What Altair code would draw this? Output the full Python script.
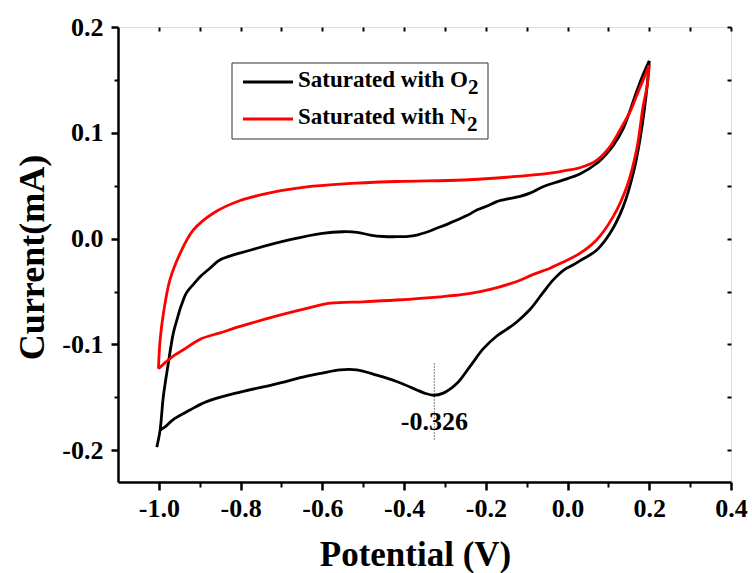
import altair as alt
import pandas as pd

# ---------------- data ----------------
series_names = ["Saturated with O\u2082", "Saturated with N\u2082"]
series_colors = ["#000000", "#ff0000"]
legend_main = ["Saturated with O", "Saturated with N"]
legend_sub = ["2", "2"]

# O2-saturated CV: forward scan (-1.0 -> 0.2)
o2_fwd_v = [
    -1.005, -0.997, -0.989, -0.977, -0.965, -0.956, -0.945, -0.932, -0.915, -0.899,
    -0.875, -0.850, -0.777, -0.679, -0.600, -0.550, -0.515, -0.483, -0.450, -0.418,
    -0.390, -0.369, -0.345, -0.320, -0.295, -0.271, -0.245, -0.222, -0.195, -0.173,
    -0.140, -0.116, -0.092, -0.060, -0.030, -0.010, 0.030, 0.071, 0.095, 0.112,
    0.135, 0.153, 0.170, 0.185, 0.200,
]
o2_fwd_i = [
    -0.197, -0.181, -0.149, -0.118, -0.090, -0.077, -0.063, -0.051, -0.043, -0.036,
    -0.028, -0.020, -0.011, -0.001, 0.005, 0.0065, 0.006, 0.0034, 0.002, 0.0018,
    0.0022, 0.0034, 0.006, 0.0098, 0.0135, 0.0176, 0.022, 0.027, 0.031, 0.035,
    0.038, 0.040, 0.043, 0.049, 0.053, 0.0555, 0.061, 0.071, 0.080, 0.088,
    0.103, 0.121, 0.140, 0.155, 0.168,
]
# O2-saturated CV: reverse scan (0.2 -> -1.0)
o2_rev_v = [
    0.200, 0.195, 0.189, 0.177, 0.161, 0.136, 0.104, 0.071, 0.030, 0.013,
    -0.010, -0.035, -0.060, -0.092, -0.125, -0.150, -0.173, -0.206, -0.239, -0.271,
    -0.304, -0.328, -0.350, -0.369, -0.418, -0.467, -0.516, -0.557, -0.600, -0.638,
    -0.720, -0.801, -0.883, -0.924, -0.965, -0.985, -0.997,
]
o2_rev_i = [
    0.168, 0.145, 0.125, 0.093, 0.062, 0.030, 0.005, -0.011, -0.021, -0.025,
    -0.030, -0.039, -0.051, -0.067, -0.079, -0.086, -0.092, -0.104, -0.121, -0.137,
    -0.146, -0.148, -0.146, -0.143, -0.135, -0.129, -0.124, -0.124, -0.127, -0.130,
    -0.138, -0.145, -0.154, -0.162, -0.171, -0.178, -0.181,
]

# N2-saturated CV: forward scan
n2_fwd_v = [
    -1.001, -0.997, -0.989, -0.973, -0.948, -0.916, -0.867, -0.801, -0.720, -0.638,
    -0.557, -0.418, -0.255, -0.133, -0.043, -0.010, 0.030, 0.071, 0.104, 0.136,
    0.153, 0.169, 0.185, 0.200,
]
n2_fwd_i = [
    -0.123, -0.096, -0.071, -0.039, -0.014, 0.008, 0.024, 0.036, 0.044, 0.049,
    0.0516, 0.054, 0.0554, 0.0585, 0.062, 0.064, 0.067, 0.074, 0.087, 0.108,
    0.120, 0.135, 0.150, 0.164,
]
# N2-saturated CV: reverse scan
n2_rev_v = [
    0.200, 0.195, 0.185, 0.169, 0.145, 0.112, 0.071, 0.030, -0.010, -0.043,
    -0.085, -0.124, -0.170, -0.214, -0.260, -0.312, -0.418, -0.500, -0.581, -0.638,
    -0.720, -0.801, -0.850, -0.899, -0.940, -0.965, -0.981, -1.001,
]
n2_rev_i = [
    0.164, 0.145, 0.125, 0.084, 0.049, 0.021, -0.0013, -0.014, -0.022, -0.028,
    -0.034, -0.0405, -0.046, -0.050, -0.053, -0.055, -0.058, -0.0597, -0.061, -0.066,
    -0.074, -0.083, -0.089, -0.095, -0.105, -0.111, -0.116, -0.123,
]

x_major = [-1.0, -0.8, -0.6, -0.4, -0.2, 0.0, 0.2, 0.4]
x_minor = [-0.9, -0.7, -0.5, -0.3, -0.1, 0.1, 0.3]
y_major = [-0.2, -0.1, 0.0, 0.1, 0.2]
y_minor = [-0.15, -0.05, 0.05, 0.15]

peak_potential = -0.326
peak_label = "-0.326"
peak_line_top = -0.118
peak_line_bottom = -0.190
peak_label_y = -0.173

# ---------------- tables ----------------
rows = []
branches = [
    (series_names[0], "o2f", o2_fwd_v, o2_fwd_i),
    (series_names[0], "o2r", o2_rev_v, o2_rev_i),
    (series_names[1], "n2f", n2_fwd_v, n2_fwd_i),
    (series_names[1], "n2r", n2_rev_v, n2_rev_i),
]
for s, b, vs, cs in branches:
    for k, (v, c) in enumerate(zip(vs, cs)):
        rows.append({"v": v, "i": c, "idx": k, "series": s, "branch": b})
df = pd.DataFrame(rows)

ann = pd.DataFrame({"v": [peak_potential], "top": [peak_line_top],
                    "bot": [peak_line_bottom], "ly": [peak_label_y],
                    "txt": [peak_label]})
one = pd.DataFrame({"a": [0]})

FONT = "Liberation Serif"
xs = alt.Scale(domain=[-1.1, 0.4], nice=False, zero=False)
ys = alt.Scale(domain=[-0.23, 0.2], nice=False, zero=False)
lab = "datum.value < 0 ? '-' + format(-datum.value, '.1f') : format(datum.value, '.1f')"

x_main = alt.X("v:Q", scale=xs, axis=alt.Axis(
    orient="bottom", values=x_major, labelExpr=lab, grid=False,
    tickSize=8, tickWidth=2.5, tickColor="black",
    domainWidth=2.5, domainColor="black",
    labelFont=FONT, labelFontSize=26, labelFontWeight="bold", labelColor="black",
    labelPadding=5, labelFlush=False, labelOverlap=False,
    title="Potential (V)", titleFont=FONT, titleFontSize=35, titleFontWeight="bold",
    titleColor="black", titleX=297, titleY=83, titleBaseline="alphabetic",
    titleAlign="center"))
y_main = alt.Y("i:Q", scale=ys, axis=alt.Axis(
    orient="left", values=y_major, labelExpr=lab, grid=False,
    tickSize=7, tickWidth=2.5, tickColor="black",
    domainWidth=2.5, domainColor="black",
    labelFont=FONT, labelFontSize=26, labelFontWeight="bold", labelColor="black",
    labelPadding=8, labelFlush=False, labelOverlap=False,
    title="Current(mA)", titleFont=FONT, titleFontSize=36, titleFontWeight="bold",
    titleColor="black", titleX=-86, titleY=230, titleAngle=-90,
    titleAlign="center", titleBaseline="middle"))

lines = alt.Chart(df).mark_line(strokeWidth=2.8, interpolate="catmull-rom").encode(
    x=x_main, y=y_main,
    color=alt.Color("series:N", scale=alt.Scale(domain=series_names, range=series_colors),
                    legend=None),
    detail="branch:N",
    order="idx:Q",
)

def tick_axis(orient, values, size, offset=0):
    kw = dict(orient=orient, values=values, labels=False, domain=False, grid=False,
              tickSize=size, tickWidth=2, tickColor="black", title=None)
    if offset:
        kw["offset"] = offset
    return alt.Axis(**kw)

minor = alt.Chart(df).mark_point(opacity=0).encode(
    x=alt.X("v:Q", scale=xs, axis=tick_axis("bottom", x_minor, 5)),
    y=alt.Y("i:Q", scale=ys, axis=tick_axis("left", y_minor, 4)),
)
mirror = alt.Chart(df).mark_point(opacity=0).encode(
    x=alt.X("v:Q", scale=xs, axis=tick_axis("top", x_major + x_minor, 4, -4)),
    y=alt.Y("i:Q", scale=ys, axis=tick_axis("right", y_major + y_minor, 4, -4)),
)

rule = alt.Chart(ann).mark_rule(strokeDash=[1, 2], strokeWidth=1, color="black").encode(
    x=alt.X("v:Q", scale=xs, axis=None),
    y=alt.Y("top:Q", scale=ys, axis=None), y2="bot:Q")
label = alt.Chart(ann).mark_text(font=FONT, fontSize=26, fontWeight="bold",
                                 color="black", align="center", baseline="middle").encode(
    x=alt.X("v:Q", scale=xs, axis=None),
    y=alt.Y("ly:Q", scale=ys, axis=None), text="txt:N")

# manual legend box
box = alt.Chart(one).mark_rect(fill="white", stroke="#333333", strokeWidth=1).encode(
    x=alt.value(114), x2=alt.value(370), y=alt.value(36), y2=alt.value(112))
leg = [box]
sub_x = [350, 349]
for k, (col, main, sub) in enumerate(zip(series_colors, legend_main, legend_sub)):
    yl = 55 + 37 * k
    leg.append(alt.Chart(one).mark_rule(color=col, strokeWidth=2.8).encode(
        x=alt.value(125), x2=alt.value(175), y=alt.value(yl)))
    leg.append(alt.Chart(one).mark_text(text=main, font=FONT, fontSize=23, fontWeight="bold",
                                        color="black", align="left", baseline="alphabetic").encode(
        x=alt.value(180), y=alt.value(yl + 5)))
    leg.append(alt.Chart(one).mark_text(text=sub, font=FONT, fontSize=21, fontWeight="bold",
                                        color="black", align="left", baseline="alphabetic").encode(
        x=alt.value(sub_x[k]), y=alt.value(yl + 12)))

chart = alt.layer(lines, minor, mirror, rule, label, *leg).resolve_axis(
    x="independent", y="independent"
).properties(
    width=613, height=455,
    autosize=alt.AutoSizeParams(type="none"),
    padding={"left": 118, "top": 27, "right": 21, "bottom": 91},
).configure_view(stroke="black", strokeWidth=2.5).configure(background="white")

chart.save("out.html", embed_options={"renderer": "svg", "actions": False})
